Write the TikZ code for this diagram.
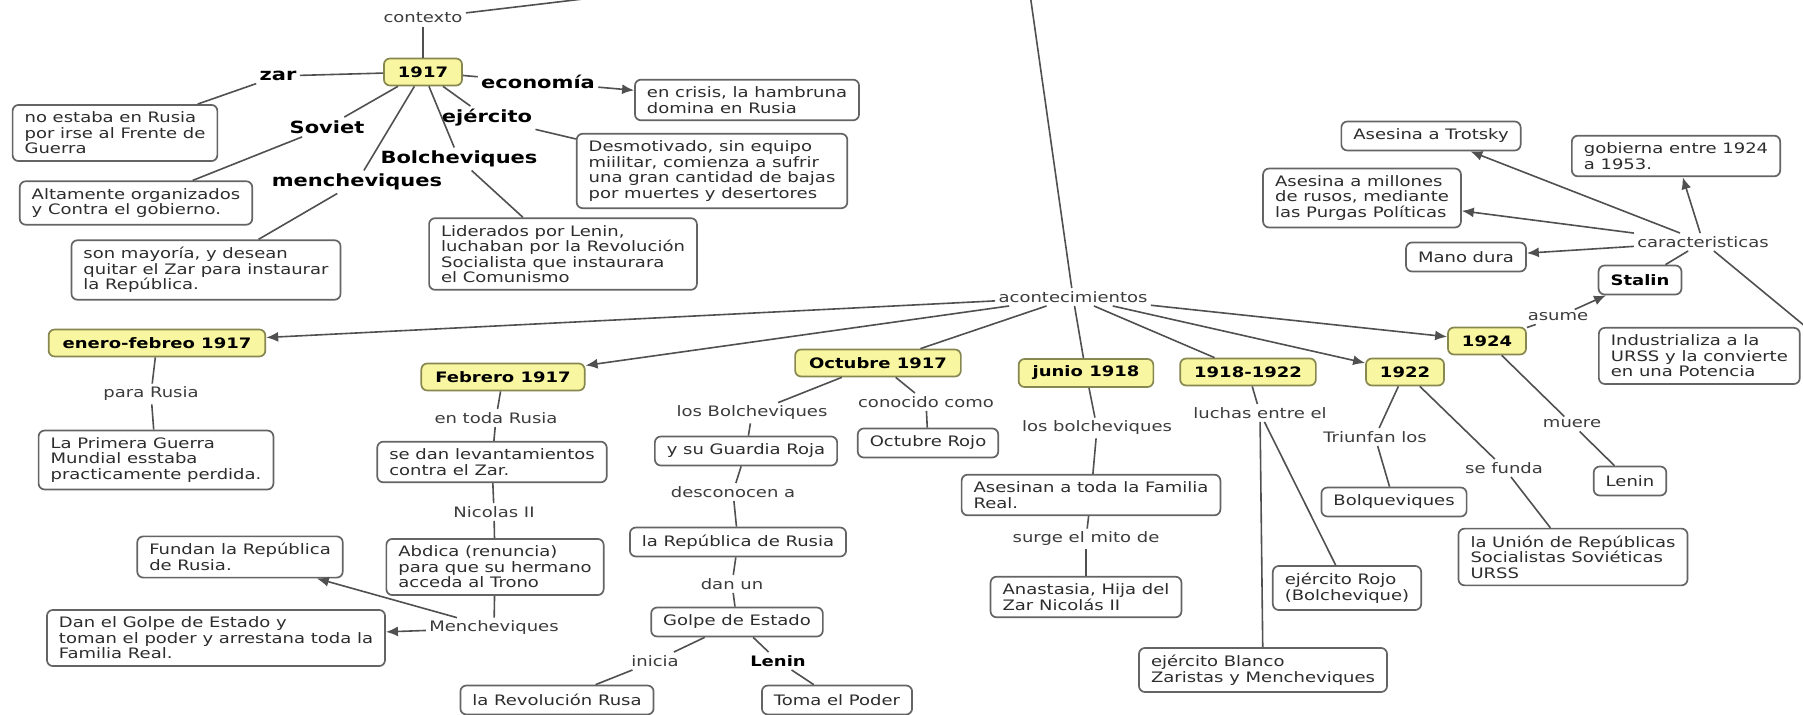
\documentclass[tikz,border=0pt]{standalone}
\usepackage{fontspec}
\setmainfont{DejaVu Sans}[FakeStretch=1.25]
\usetikzlibrary{arrows.meta}
\definecolor{yel}{RGB}{248,246,160}
\definecolor{ybord}{RGB}{135,135,80}
\definecolor{bord}{RGB}{100,100,100}
\definecolor{lin}{RGB}{80,80,80}
\definecolor{txt}{RGB}{45,45,45}
\definecolor{lnktxt}{RGB}{60,60,60}
\tikzset{
  base/.style={font=\fontsize{7.2}{7.75}\selectfont, text=txt},
  wbox/.style={base, draw=bord, line width=0.85pt, rounded corners=3pt, fill=white,
    inner xsep=6pt, inner ysep=3.5pt, align=left, minimum height=14.5pt},
  ybox/.style={wbox, fill=yel, draw=ybord, font=\fontsize{7.2}{7.75}\selectfont\bfseries,
    text=black, minimum height=13.5pt, inner xsep=7pt, align=center},
  lnk/.style={base, text=lnktxt, inner sep=1.5pt},
  lnkb/.style={font=\fontsize{7.2}{7.75}\selectfont\bfseries, text=black, inner sep=1.5pt},
  blab/.style={font=\fontsize{8.4}{9}\selectfont\bfseries, text=black, inner sep=1.5pt},
  conn/.style={draw=lin, line width=0.8pt},
  arr/.style={conn, -{Latex[length=6pt,width=5pt]}},
}
\begin{document}
\begin{tikzpicture}[x=0.5pt,y=-0.5pt]
\useasboundingbox (0,0) rectangle (1803,715);
\fill[white] (0,0) rectangle (1803,715);
\clip (0,0) rectangle (1803,715);

% coordinates off canvas
\coordinate (topA) at (1030,-6);
\coordinate (topB) at (600,-3);
\coordinate (indusTop) at (1806,327);

% ---- 1917 context cluster
\node[lnk] (contexto) at (423,18) {contexto};
\node[ybox] (n1917) at (423,72) {1917};
\node[blab] (zar) at (278,76) {zar};
\node[wbox] (noestaba) at (115,133) {no estaba en Rusia\\por irse al Frente de\\Guerra};
\node[blab] (soviet) at (327,127) {Soviet};
\node[wbox] (altamente) at (136,203) {Altamente organizados\\y Contra el gobierno.};
\node[blab] (menche) at (357,182) {mencheviques};
\node[wbox] (sonmayoria) at (206,270) {son mayoría, y desean\\quitar el Zar para instaurar\\la República.};
\node[blab] (bolche) at (459,159) {Bolcheviques};
\node[wbox] (liderados) at (563,254) {Liderados por Lenin,\\luchaban por la Revolución\\Socialista que instaurara\\el Comunismo};
\node[blab] (ejercito) at (487,118) {ejército};
\node[wbox] (desmot) at (712,171) {Desmotivado, sin equipo\\miilitar, comienza a sufrir\\una gran cantidad de bajas\\por muertes y desertores};
\node[blab] (economia) at (538,82) {economía};
\node[wbox] (crisis) at (747,100) {en crisis, la hambruna\\domina en Rusia};

% ---- acontecimientos
\node[lnk] (acont) at (1073,297) {acontecimientos};

\node[ybox] (enero) at (157,343) {enero-febreo 1917};
\node[lnk] (paraRusia) at (151,394) {para Rusia};
\node[wbox] (primera) at (156,460) {La Primera Guerra\\Mundial esstaba\\practicamente perdida.};

\node[ybox] (febrero) at (503,377) {Febrero 1917};
\node[lnk] (todaRusia) at (496,418) {en toda Rusia};
\node[wbox] (sedan) at (492,462) {se dan levantamientos\\contra el Zar.};
\node[lnk] (nicolas) at (494,512) {Nicolas II};
\node[wbox] (abdica) at (495,567) {Abdica (renuncia)\\para que su hermano\\acceda al Trono};
\node[lnk] (mencheL) at (494,628) {Mencheviques};
\node[wbox] (fundan) at (240,557) {Fundan la República\\de Rusia.};
\node[wbox] (dangolpe) at (216,638) {Dan el Golpe de Estado y\\toman el poder y arrestana toda la\\Familia Real.};

\node[ybox] (octubre) at (878,363) {Octubre 1917};
\node[lnk] (losBolche) at (752,413) {los Bolcheviques};
\node[wbox] (guardia) at (746,451) {y su Guardia Roja};
\node[lnk] (descon) at (733,492) {desconocen a};
\node[wbox] (republica) at (738,542) {la República de Rusia};
\node[lnk] (danun) at (732,584) {dan un};
\node[wbox] (golpe) at (737,622) {Golpe de Estado};
\node[lnk] (inicia) at (655,661) {inicia};
\node[wbox] (revolucion) at (557,700) {la Revolución Rusa};
\node[lnkb] (leninB) at (778,661) {Lenin};
\node[wbox] (toma) at (837,700) {Toma el Poder};
\node[lnk] (conocido) at (926,402) {conocido como};
\node[wbox] (octRojo) at (928,443) {Octubre Rojo};

\node[ybox] (junio) at (1086,373) {junio 1918};
\node[lnk] (losbolche2) at (1097,428) {los bolcheviques};
\node[wbox] (asesinan) at (1091,495) {Asesinan a toda la Familia\\Real.};
\node[lnk] (surge) at (1086,539) {surge el mito de};
\node[wbox] (anastasia) at (1086,597) {Anastasia, Hija del\\Zar Nicolás II};

\node[ybox] (y1918) at (1248,372) {1918-1922};
\node[lnk] (luchas) at (1260,413) {luchas entre el};
\node[wbox] (rojo) at (1347,588) {ejército Rojo\\(Bolchevique)};
\node[wbox] (blanco) at (1263,670) {ejército Blanco\\Zaristas y Mencheviques};

\node[ybox] (y1922) at (1405,372) {1922};
\node[lnk] (triunfan) at (1375,437) {Triunfan los};
\node[wbox] (bolque) at (1394,502) {Bolqueviques};
\node[lnk] (sefunda) at (1504,468) {se funda};
\node[wbox] (urss) at (1573,557) {la Unión de Repúblicas\\Socialistas Soviéticas\\URSS};

\node[ybox] (y1924) at (1487,341) {1924};
\node[lnk] (muere) at (1572,424) {muere};
\node[wbox] (lenin2) at (1630,481) {Lenin};
\node[lnk] (asume) at (1558,317) {asume};
\node[wbox, font=\fontsize{7.2}{7.75}\selectfont\bfseries, text=black] (stalin) at (1640,280) {Stalin};
\node[lnk] (caract) at (1703,242) {caracteristicas};
\node[wbox] (trotsky) at (1431,136) {Asesina a Trotsky};
\node[wbox] (millones) at (1362,198) {Asesina a millones\\de rusos, mediante\\las Purgas Políticas};
\node[wbox] (mano) at (1466,257) {Mano dura};
\node[wbox] (gobierna) at (1676,156) {gobierna entre 1924\\a 1953.};
\node[wbox, anchor=north west] (indus) at (1598,327) {Industrializa a la\\URSS y la convierte\\en una Potencia};

% ---- connectors
\draw[conn] (contexto) -- (topB);
\draw[conn] (contexto) -- (n1917);
\draw[conn] (n1917) -- (zar);
\draw[conn] (zar) -- (noestaba);
\draw[conn] (n1917) -- (soviet);
\draw[conn] (soviet) -- (altamente);
\draw[conn] (n1917) -- (menche);
\draw[conn] (menche) -- (sonmayoria);
\draw[conn] (n1917) -- (bolche);
\draw[conn] (bolche) -- (liderados);
\draw[conn] (n1917) -- (ejercito);
\draw[conn] (ejercito) -- (desmot);
\draw[conn] (n1917) -- (economia);
\draw[arr] (economia) -- (crisis);

\draw[conn] (topA) -- (acont);
\draw[arr] (acont) -- (enero);
\draw[arr] (acont) -- (febrero);
\draw[conn] (acont) -- (octubre);
\draw[conn] (acont) -- (junio);
\draw[conn] (acont) -- (y1918);
\draw[arr] (acont) -- (y1922);
\draw[arr] (acont) -- (y1924);

\draw[conn] (enero) -- (paraRusia);
\draw[conn] (paraRusia) -- (primera);

\draw[conn] (febrero) -- (todaRusia);
\draw[conn] (todaRusia) -- (sedan);
\draw[conn] (sedan) -- (nicolas);
\draw[conn] (nicolas) -- (abdica);
\draw[conn] (abdica) -- (mencheL);
\draw[arr] (mencheL) -- (fundan);
\draw[arr] (mencheL) -- (dangolpe);

\draw[conn] (octubre) -- (losBolche);
\draw[conn] (losBolche) -- (guardia);
\draw[conn] (guardia) -- (descon);
\draw[conn] (descon) -- (republica);
\draw[conn] (republica) -- (danun);
\draw[conn] (danun) -- (golpe);
\draw[conn] (golpe) -- (inicia);
\draw[conn] (inicia) -- (revolucion);
\draw[conn] (golpe) -- (leninB);
\draw[conn] (leninB) -- (toma);
\draw[conn] (octubre) -- (conocido);
\draw[conn] (conocido) -- (octRojo);

\draw[conn] (junio) -- (losbolche2);
\draw[conn] (losbolche2) -- (asesinan);
\draw[conn] (asesinan) -- (surge);
\draw[conn] (surge) -- (anastasia);

\draw[conn] (y1918) -- (luchas);
\draw[conn] (luchas) -- (rojo);
\draw[conn] (luchas) -- (blanco);

\draw[conn] (y1922) -- (triunfan);
\draw[conn] (triunfan) -- (bolque);
\draw[conn] (y1922) -- (sefunda);
\draw[conn] (sefunda) -- (urss);

\draw[conn] (y1924) -- (muere);
\draw[conn] (muere) -- (lenin2);
\draw[conn] (y1924) -- (asume);
\draw[arr] (asume) -- (stalin);
\draw[conn] (stalin) -- (caract);
\draw[arr] (caract) -- (trotsky);
\draw[arr] (caract) -- (millones);
\draw[arr] (caract) -- (mano);
\draw[arr] (caract) -- (gobierna);
\draw[conn] (caract) -- (indusTop);
\end{tikzpicture}
\end{document}
